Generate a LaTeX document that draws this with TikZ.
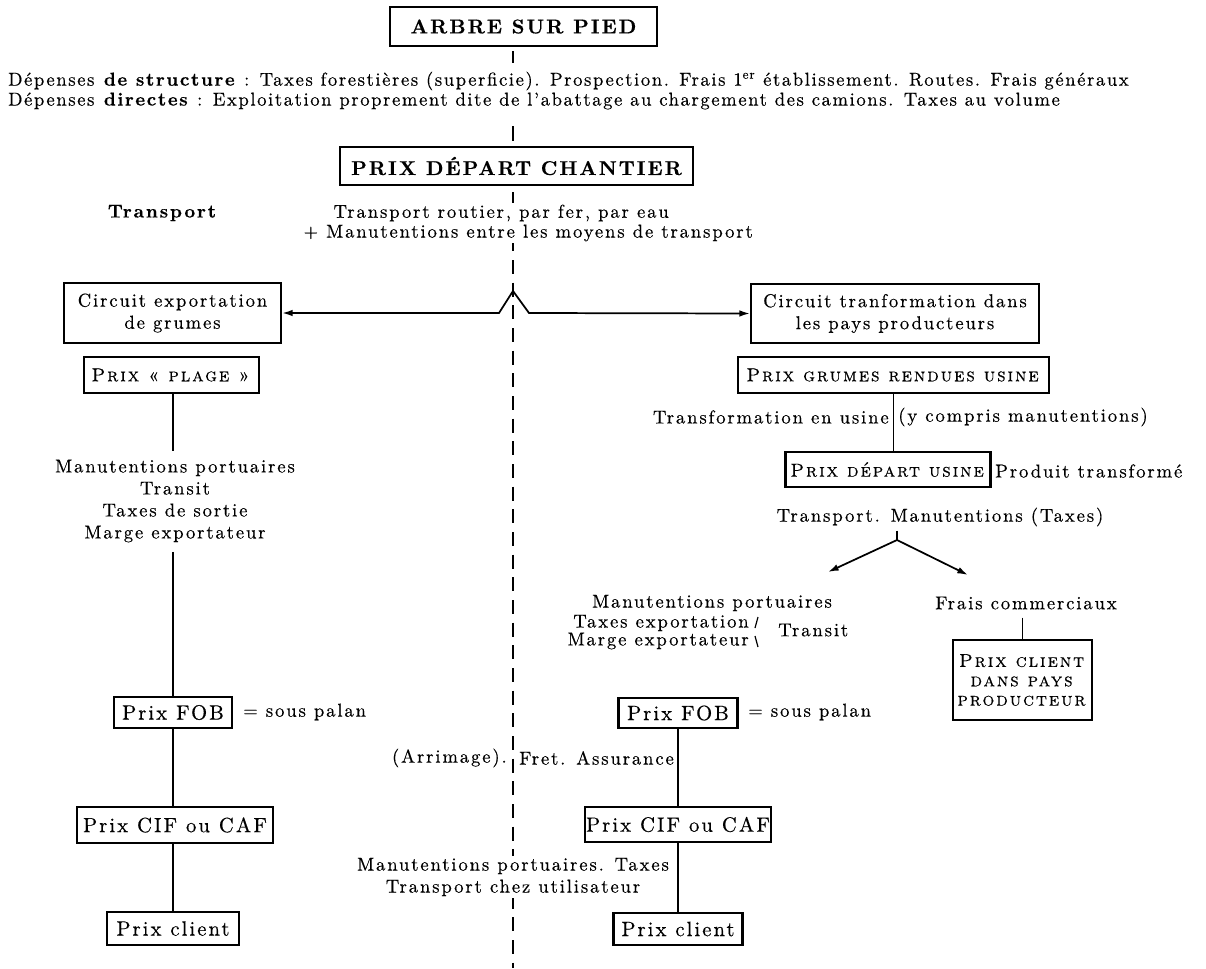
\documentclass[tikz,border=0pt]{standalone}
\usepackage{fontspec}
\setmainfont{lmroman10-regular.otf}[
  BoldFont=lmroman10-bold.otf,
  ItalicFont=lmroman10-italic.otf,
  BoldItalicFont=lmroman10-bolditalic.otf,
  SmallCapsFont=lmromancaps10-regular.otf,
  LetterSpace=10,
  FakeBold=0.35]
\usetikzlibrary{arrows.meta}
\newcommand\bodyfont{\fontsize{14}{16.5}\selectfont}
\newcommand\bigcaps{\fontsize{15}{18}\selectfont\bfseries}
\newcommand\boxfont{\fontsize{15.5}{18}\selectfont}
\tikzset{
  box/.style={draw, line width=1.6pt, inner sep=0pt, align=center, font=\bodyfont},
  bx/.style 2 args={minimum width=#1*0.75pt, minimum height=#2*0.75pt},
  txt/.style={inner sep=0pt, align=center, font=\bodyfont},
  conn/.style={line width=1.1pt},
  arr/.style={line width=1.3pt, -{Latex[length=8pt,width=5pt]}},
  dashline/.style={line width=1.1pt, dash pattern=on 10.5pt off 6.5pt},
  wh/.style={fill=white, inner sep=1pt}
}
\begin{document}
\begin{tikzpicture}[x=0.75pt, y=-0.75pt]
\useasboundingbox (0,0) rectangle (1206,968);
\fill[white] (0,0) rectangle (1206,968);

% top
\node[box,bx={267}{39},font=\bigcaps] (arbre) at (523.5,26.5) {ARBRE SUR PIED};
\node[box,bx={353}{38},font=\bigcaps] (chantier) at (516.5,166) {PRIX DÉPART CHANTIER};
\coordinate (dbot) at (513,968);
\draw[conn] (arbre.south -| dbot) ++(0,4) -- ++(0,12);
\draw[conn] (chantier.north -| dbot) ++(0,-5) -- ++(0,-15);
\draw[dashline] (chantier.south -| dbot) ++(0,6) -- (dbot);

\node[txt,anchor=west] (dep1) at (8,81) {\addfontfeatures{LetterSpace=8.5}Dépenses \textbf{de structure} : Taxes forestières (superficie). Prospection. Frais 1\textsuperscript{er} établissement. Routes. Frais généraux};
\node[txt,anchor=west] (dep2) at (8,101) {\addfontfeatures{LetterSpace=8.5}Dépenses \textbf{directes} : Exploitation proprement dite de l'abattage au chargement des camions. Taxes au volume};

% transport
\node[txt,font={\bodyfont\bfseries}] (trlbl) at (162,213) {Transport};
\node[txt,wh,anchor=west] (tr1) at (332,213) {Transport routier, par fer, par eau};
\node[txt,wh,anchor=west] (tr2) at (302,233) {+ Manutentions entre les moyens de transport};

% circuits
\coordinate (pk) at (513,291);
\node[box,bx={217}{60}] (export) at (172.5,313) {Circuit exportation\\de grumes};
\node[box,bx={288}{59}] (transfo) at (895,313.5) {Circuit tranformation dans\\les pays producteurs};
\draw[arr] (pk) -- ++(-14,22) -- (export.east);
\draw[arr] (pk) -- ++(16,22) -- (transfo.west);

% left column
\node[box,bx={175}{36}] (plage) at (171.5,375) {\textsc{Prix « plage »}};
\node[txt] (lt) at (175,501) {Manutentions portuaires\\Transit\\Taxes de sortie\\Marge exportateur};
\node[box,bx={118}{31},font=\boxfont] (fobL) at (173,712.5) {Prix FOB};
\node[txt,anchor=west] (spL) at (243,712) {= sous palan};
\node[box,bx={196}{36},font=\boxfont] (cifL) at (175,825) {Prix CIF ou CAF};
\node[box,bx={132}{33},font=\boxfont] (clL) at (173,928.5) {Prix client};
\draw[conn,shorten >=6pt] (plage.south -| fobL.north) -- (lt.north -| fobL.north);
\draw[conn,shorten <=7pt] (lt.south -| fobL.north) -- (fobL.north);
\draw[conn] (fobL.south) -- (fobL.south |- cifL.north);
\draw[conn] (clL.north |- cifL.south) -- (clL.north);

% right column
\node[box,bx={311}{36}] (grumes) at (893.5,375) {\textsc{Prix grumes rendues usine}};
\node[box,bx={205}{35}] (depusine) at (888,469.5) {\textsc{Prix départ usine}};
\draw[conn] (grumes.south) -- (grumes.south |- depusine.north);
\node[txt,anchor=east] (tu1) at (889,417) {Transformation en usine};
\node[txt,anchor=west] (tu2) at (898,417) {(y compris manutentions)};
\node[txt,anchor=west] (produit) at (995,471) {Produit transformé};
\node[txt] (tmt) at (940,517) {Transport. Manutentions (Taxes)};
\coordinate (J) at (897,540);
\coordinate (aL) at (828,572);
\coordinate (aR) at (968,575);
\draw[conn,shorten <=3pt] (tmt.south -| J) -- (J);
\draw[arr] (J) -- (aL);
\draw[arr] (J) -- (aR);

\node[txt] (mpr) at (712,603) {Manutentions portuaires};
\node[txt,anchor=east] (te) at (749,623) {Taxes exportation};
\node[txt,anchor=east] (me) at (749,641) {Marge exportateur};
\draw[line width=0.9pt] (755,628) -- (758,617);
\draw[line width=0.9pt] (755,636) -- (758,647);
\node[txt,anchor=west] (transit) at (778,630) {Transit};
\node[txt] (fc) at (1026,603) {Frais commerciaux};
\node[box,bx={139}{80},font={\fontsize{14}{14.5}\selectfont}] (pcl) at (1022.5,680) {\textsc{Prix client}\\\textsc{dans pays}\\\textsc{producteur}};
\draw[conn,shorten <=6pt] (fc.south -| pcl.north) -- (pcl.north);

\node[box,bx={119}{30},font=\boxfont] (fobR) at (678,713) {Prix FOB};
\node[txt,anchor=west] (spR) at (748,712) {= sous palan};
\node[txt,anchor=east] (arr1) at (507,758) {(Arrimage).};
\node[txt,anchor=west] (arr2) at (519,758) {Fret. Assurance};
\node[box,bx={186}{35},font=\boxfont] (cifR) at (678,824.5) {Prix CIF ou CAF};
\node[txt,wh] (mpt) at (513,877) {Manutentions portuaires. Taxes\\Transport chez utilisateur};
\node[box,bx={129}{32},font=\boxfont] (clR) at (678,929) {Prix client};
\draw[conn] (fobR.south) -- (cifR.north);
\draw[conn] (cifR.south) -- (clR.north);
\end{tikzpicture}
\end{document}
